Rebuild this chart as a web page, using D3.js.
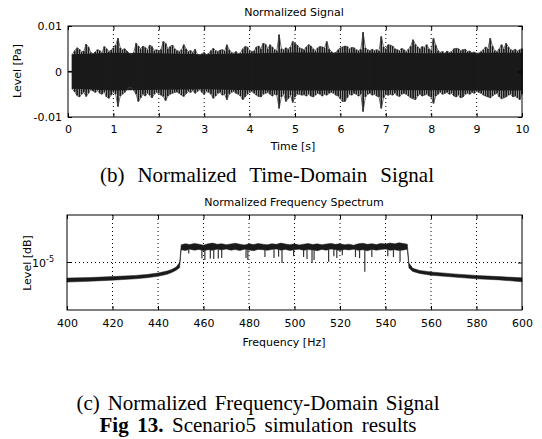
<!DOCTYPE html>
<html>
<head>
<meta charset="utf-8" />
<title>Scenario5 simulation results</title>
<style>
  body { margin: 0; background: #fff; }
  .ax { font-family: "DejaVu Sans", "Liberation Sans", sans-serif; font-size: 11px; fill: #000; }
  .cap { font-family: "Liberation Serif", "Times New Roman", serif; font-size: 21px; fill: #000; }
</style>
</head>
<body>
<script src="https://d3js.org/d3.v7.min.js"></script>
<script>
// ---- (b) time-domain signal, envelope peaks every 0.05 s from 0.10 s, in mPa ----
var sigStart = 0.1, sigStep = 0.05;
var sigHi = [
  3.8,4.6,5.2,4.9,4.3,4.5,6.0,5.4,4.2,3.9, 4.3,4.8,4.6,4.1,5.5,5.0,4.4,4.7,5.2,5.8,
  7.3,5.2,4.8,5.0,4.5,4.0,3.8,4.2,6.2,5.6, 5.0,5.6,5.3,4.8,5.8,5.5,4.6,4.8,4.5,4.9,
  6.6,6.2,5.0,5.5,5.8,5.0,4.6,4.4,4.8,5.9, 5.0,4.4,4.6,4.2,4.9,3.8,3.6,3.9,4.2,3.7,
  4.0,4.6,5.1,4.6,4.4,4.7,4.8,4.5,5.9,4.8, 4.2,4.0,4.4,3.9,4.1,5.0,5.5,5.4,4.6,4.4,
  4.5,5.4,5.6,5.0,6.2,6.0,5.0,5.9,5.4,4.8, 4.6,8.1,5.0,4.8,5.2,4.9,5.4,6.6,6.2,5.8,
  5.2,5.0,4.8,5.4,5.9,5.6,5.0,4.6,5.2,5.5, 5.4,5.2,6.6,5.0,4.4,4.0,4.2,4.8,5.2,5.4,
  5.6,5.5,5.0,5.3,5.2,4.8,4.6,4.9,8.6,5.2, 4.8,4.6,4.9,4.6,4.8,4.5,7.7,5.4,5.0,5.9,
  5.8,5.6,5.0,4.8,4.6,5.1,4.8,4.4,4.9,5.6, 7.0,6.0,5.4,5.0,5.5,5.3,5.9,5.0,4.6,7.3,
  5.8,4.6,4.2,4.4,4.0,4.5,4.2,4.4,5.0,5.1, 5.0,4.6,4.8,4.9,4.4,4.5,4.1,4.3,3.8,4.0,
  4.4,4.8,5.4,5.0,7.3,5.6,4.6,4.4,5.0,5.9, 5.0,6.2,5.4,4.8,4.6,4.9,4.5,4.8,5.0
];
var sigLo = [
  -3.9,-4.5,-5.3,-5.6,-5.0,-4.6,-5.5,-4.8,-4.0,-4.3, -4.6,-4.2,-4.8,-5.0,-4.5,-5.6,-5.9,-5.2,-4.6,-5.0,
  -7.7,-5.4,-5.0,-4.6,-4.0,-3.4,-3.6,-4.2,-5.0,-6.6, -5.8,-5.0,-5.4,-4.8,-5.2,-5.8,-5.0,-4.6,-4.8,-5.2,
  -5.5,-6.4,-5.4,-5.0,-4.8,-4.6,-4.5,-4.8,-5.2,-5.5, -4.9,-4.4,-4.6,-4.2,-4.8,-4.4,-4.0,-4.6,-5.0,-4.4,
  -4.6,-5.0,-5.9,-5.4,-4.8,-4.6,-5.2,-5.0,-6.2,-5.0, -4.6,-4.4,-4.8,-5.0,-5.4,-6.2,-5.6,-5.0,-4.6,-4.4,
  -4.8,-5.2,-5.5,-5.6,-5.0,-4.8,-4.6,-5.0,-5.4,-5.0, -5.2,-8.1,-5.6,-5.0,-6.6,-6.0,-5.2,-6.8,-5.6,-5.0,
  -5.0,-5.2,-5.1,-5.4,-5.0,-5.4,-5.6,-5.2,-4.8,-5.0, -5.4,-5.0,-5.2,-4.8,-4.6,-4.8,-5.2,-5.4,-6.0,-6.6,
  -6.6,-5.8,-5.0,-5.2,-4.8,-5.0,-5.4,-5.0,-8.8,-5.6, -5.0,-4.8,-5.2,-5.0,-5.4,-5.6,-8.1,-5.8,-5.0,-5.2,
  -5.0,-5.2,-4.8,-5.3,-5.5,-5.0,-4.8,-5.0,-5.4,-5.8, -6.0,-6.2,-5.4,-5.0,-5.4,-5.2,-5.0,-5.4,-5.6,-7.0,
  -5.4,-5.0,-4.6,-5.0,-4.8,-4.6,-5.0,-4.8,-5.4,-5.6, -5.2,-5.8,-5.6,-5.0,-4.8,-5.0,-4.6,-4.8,-4.4,-4.6,
  -4.8,-5.2,-5.4,-5.6,-5.8,-5.4,-5.0,-4.8,-5.6,-6.0, -5.8,-5.6,-5.2,-5.0,-5.6,-5.4,-5.8,-6.2,-5.0
];
// dense core of the signal, read once per second
var coreT  = [0.1, 1, 2, 3, 4, 5, 6, 7, 8, 9, 10];
var coreHi = [3.8, 4.1, 4.0, 3.8, 4.0, 4.2, 4.1, 4.1, 4.0, 4.1, 4.1];
var coreLo = [-3.8, -4.2, -4.0, -3.9, -4.1, -4.2, -4.2, -4.1, -4.1, -4.2, -4.2];

var timeTicks = [0, 1, 2, 3, 4, 5, 6, 7, 8, 9, 10];
var levelTicks = [-10, 0, 10];
var levelTickLabels = ["-0.01", "0", "0.01"];

// ---- (c) spectrum band edges, in units of 1e-6 ----
var bandFreq = [400,410,420,430,435,440,444,446,448,449.5,
  450.2,452,454,456,458,460,462,464,466,468,470,472,474,476,478,480,482,484,486,488,
  490,492,494,496,498,500,502,504,506,508,510,512,514,516,518,520,522,524,526,528,
  530,532,534,536,538,540,542,544,546,548,549.6,
  550.3,552,555,560,570,580,590,600];
var bandHi = [5.9,6.0,6.2,6.45,6.65,7.0,7.5,7.9,8.6,10.0,
  18.2,18.9,18.4,19.1,18.6,18.0,18.8,19.3,18.5,18.9,
  18.3,18.7,19.2,18.6,18.1,18.8,18.4,19.0,18.6,18.2,
  18.9,18.5,19.3,18.7,18.3,18.8,18.1,18.6,19.0,18.4,
  18.8,18.2,18.7,19.1,18.5,18.9,18.3,18.6,18.0,18.8,
  19.2,18.5,18.9,18.4,19.1,18.7,19.3,18.8,19.5,19.0,
  18.6,
  9.8,8.2,7.65,7.25,6.8,6.45,6.2,5.95];
var bandLo = [5.15,5.3,5.5,5.75,5.95,6.25,6.7,7.1,7.7,8.4,
  15.4,15.0,15.7,15.2,15.6,14.9,15.4,15.1,15.7,15.3,
  15.8,15.2,15.5,15.0,15.7,15.3,14.9,15.6,15.4,15.1,
  15.5,15.8,15.2,15.6,15.0,15.4,15.7,15.1,15.5,15.3,
  14.9,15.6,15.2,15.8,15.4,15.0,15.5,15.3,15.7,15.1,
  15.4,14.9,15.6,15.2,15.5,15.8,15.1,15.4,15.0,15.3,
  15.7,
  8.3,7.4,6.9,6.5,6.1,5.75,5.55,5.2];
// narrow downward spikes inside the pass band
var dipFreq  = [453.5,459.3,460.6,463,464.5,466.5,468,478.7,479.5,487,491,493,494.5,499.6,504,
  505.5,507.7,508.6,515,517.3,518.6,521,526.8,528.6,530.9,534,541,543.5,546.4];
var dipLevel = [13.6,11.5,10.9,11.5,11.3,11.5,11.6,11.6,10.9,12.0,11.6,12.2,9.8,12.4,12.0,
  11.3,9.8,10.9,10.3,12.4,11.6,12.8,12.0,11.6,7.3,12.0,12.4,12.0,10.3];
var freqTicks = [400, 420, 440, 460, 480, 500, 520, 540, 560, 580, 600];
var dbTick = 10;   // 1e-5

var W = 542, H = 439;
var svg = d3.select("body").append("svg")
    .attr("width", W)
    .attr("height", H);

function box(g, x, y) {
    var r = x.range(), s = y.range();
    g.append("rect")
        .attr("x", r[0]).attr("y", s[1])
        .attr("width", r[1] - r[0]).attr("height", s[0] - s[1])
        .attr("fill", "none").attr("stroke", "#000").attr("stroke-width", 1);
}

function innerAxes(g, x, y, xt, yt, pad) {
    var r = x.range(), s = y.range();
    g.append("g").attr("transform", "translate(0," + s[0] + ")")
        .call(d3.axisBottom(x).tickValues(xt).tickSizeInner(-4).tickSizeOuter(0).tickPadding(pad))
        .call(a => a.select(".domain").remove());
    g.append("g").attr("transform", "translate(0," + s[1] + ")")
        .call(d3.axisTop(x).tickValues(xt).tickSizeInner(-4).tickSizeOuter(0).tickFormat(""))
        .call(a => a.select(".domain").remove());
    g.append("g").attr("transform", "translate(" + r[1] + ",0)")
        .call(d3.axisRight(y).tickValues(yt).tickSizeInner(-4).tickSizeOuter(0).tickFormat(""))
        .call(a => a.select(".domain").remove());
    g.selectAll(".tick line").attr("stroke", "#000");
    g.selectAll(".tick text").attr("class", "ax").attr("font-family", null).attr("font-size", null);
}

// ---------------- top: time signal ----------------
var x1 = d3.scaleLinear().domain([0, 10]).range([68, 522]);
var y1 = d3.scaleLinear().domain([-10, 10]).range([117, 26]);
var g1 = svg.append("g");

g1.append("g").selectAll("line").data(timeTicks.slice(1, -1)).join("line")
    .attr("x1", d => x1(d)).attr("x2", d => x1(d))
    .attr("y1", y1.range()[1]).attr("y2", y1.range()[0])
    .attr("stroke", "#000").attr("stroke-width", 1).attr("stroke-dasharray", "1,3");

var sig = sigHi.map((h, i) => ({ t: sigStart + i * sigStep, hi: h, lo: sigLo[i] }));
g1.append("line")
    .attr("x1", x1(0)).attr("x2", x1(sigStart))
    .attr("y1", y1(0)).attr("y2", y1(0))
    .attr("stroke", "#1a1a1a").attr("stroke-width", 1.2);
g1.append("path")
    .datum(coreT.map((t, i) => ({ t: t, hi: coreHi[i], lo: coreLo[i] })))
    .attr("fill", "#1a1a1a")
    .attr("d", d3.area().x(d => x1(d.t)).y0(d => y1(d.lo)).y1(d => y1(d.hi)));
g1.append("g").selectAll("line").data(sig).join("line")
    .attr("x1", d => x1(d.t)).attr("x2", d => x1(d.t))
    .attr("y1", d => y1(d.lo)).attr("y2", d => y1(d.hi))
    .attr("stroke", "#1a1a1a").attr("stroke-width", 1.8);
g1.append("path")
    .datum(sig)
    .attr("fill", "none").attr("stroke", "#444").attr("stroke-width", 0.8)
    .attr("d", d3.line().x(d => x1(d.t)).y(d => y1(d.hi)));
g1.append("path")
    .datum(sig)
    .attr("fill", "none").attr("stroke", "#444").attr("stroke-width", 0.8)
    .attr("d", d3.line().x(d => x1(d.t)).y(d => y1(d.lo)));

innerAxes(g1, x1, y1, timeTicks, levelTicks, 8);
var yl1 = g1.append("g").attr("transform", "translate(" + x1.range()[0] + ",0)")
    .call(d3.axisLeft(y1).tickValues(levelTicks).tickSizeInner(-4).tickSizeOuter(0).tickPadding(6)
        .tickFormat((d, i) => levelTickLabels[i]));
yl1.select(".domain").remove();
yl1.selectAll(".tick line").attr("stroke", "#000");
yl1.selectAll(".tick text").attr("class", "ax").attr("font-family", null).attr("font-size", null);
box(g1, x1, y1);

g1.append("text").attr("class", "ax").attr("x", 294).attr("y", 16)
    .attr("text-anchor", "middle").text("Normalized Signal");
g1.append("text").attr("class", "ax").attr("x", 293).attr("y", 150)
    .attr("text-anchor", "middle").text("Time [s]");
g1.append("text").attr("class", "ax")
    .attr("transform", "translate(21,71) rotate(-90)")
    .attr("text-anchor", "middle").text("Level [Pa]");

// ---------------- bottom: spectrum ----------------
var x2 = d3.scaleLinear().domain([400, 600]).range([67, 522]);
var y2 = d3.scaleLog().domain([2, 50]).range([310, 215]);
var g2 = svg.append("g");

g2.append("g").selectAll("line").data(freqTicks.slice(1, -1)).join("line")
    .attr("x1", d => x2(d)).attr("x2", d => x2(d))
    .attr("y1", y2.range()[1]).attr("y2", y2.range()[0])
    .attr("stroke", "#000").attr("stroke-width", 1).attr("stroke-dasharray", "1,3");
g2.append("line")
    .attr("x1", x2.range()[0]).attr("x2", x2.range()[1])
    .attr("y1", y2(dbTick)).attr("y2", y2(dbTick))
    .attr("stroke", "#000").attr("stroke-width", 1).attr("stroke-dasharray", "1,3");

var band = bandFreq.map((f, i) => ({ f: f, hi: bandHi[i], lo: bandLo[i] }));
g2.append("path")
    .datum(band)
    .attr("fill", "#1a1a1a").attr("stroke", "#1a1a1a").attr("stroke-width", 0.5)
    .attr("d", d3.area().x(d => x2(d.f)).y0(d => y2(d.lo)).y1(d => y2(d.hi)));
g2.append("g").selectAll("line").data(dipFreq).join("line")
    .attr("x1", d => x2(d)).attr("x2", d => x2(d))
    .attr("y1", y2(15.5)).attr("y2", (d, i) => y2(dipLevel[i]))
    .attr("stroke", "#333").attr("stroke-width", 1.2);

innerAxes(g2, x2, y2, freqTicks, [dbTick], 9);
g2.append("line")
    .attr("x1", x2.range()[0]).attr("x2", x2.range()[0] + 4)
    .attr("y1", y2(dbTick)).attr("y2", y2(dbTick)).attr("stroke", "#000");
box(g2, x2, y2);

var ten = g2.append("text").attr("class", "ax").attr("x", 54).attr("y", y2(dbTick) + 4)
    .attr("text-anchor", "end");
ten.append("tspan").text("10");
ten.append("tspan").attr("dy", -5).attr("font-size", 8).text("-5");

g2.append("text").attr("class", "ax").attr("x", 294).attr("y", 206)
    .attr("text-anchor", "middle").text("Normalized Frequency Spectrum");
g2.append("text").attr("class", "ax").attr("x", 284).attr("y", 346)
    .attr("text-anchor", "middle").text("Frequency [Hz]");
g2.append("text").attr("class", "ax")
    .attr("transform", "translate(31,263) rotate(-90)")
    .attr("text-anchor", "middle").text("Level [dB]");

// ---------------- captions ----------------
function caption(parts, cx, y, width) {
    var t = svg.append("text").attr("class", "cap").attr("x", cx).attr("y", y)
        .attr("text-anchor", "middle");
    parts.forEach(p => t.append("tspan").attr("font-weight", p.bold ? "bold" : null).text(p.s));
    var n = parts.map(p => p.s).join("").split(" ").length - 1;
    var len = t.node().getComputedTextLength();
    t.attr("word-spacing", Math.max(0, (width - len) / n));
}
caption([{ s: "(b) Normalized Time-Domain Signal" }], 267, 182, 334);
caption([{ s: "(c) Normalized Frequency-Domain Signal" }], 258, 410, 363);
caption([{ s: "Fig 13.", bold: true }, { s: " Scenario5 simulation results" }], 258, 432, 317);
</script>
</body>
</html>
